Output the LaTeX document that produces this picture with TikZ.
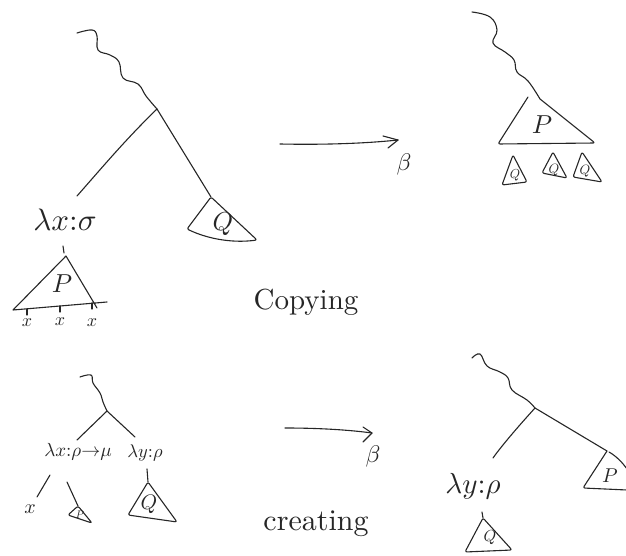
\documentclass[tikz,border=0pt]{standalone}
\usepackage{graphicx}
\usepackage{amsmath}
\newcommand{\sz}[2]{\scalebox{#1}{\fontsize{10}{12}\selectfont #2}}
\begin{document}
\begin{tikzpicture}[x=1pt,y=-1pt,
  pen/.style={line width=1.1pt,line cap=round,line join=round,draw=black!85},
  tri/.style={pen,rounded corners=2pt},
  lbl/.style={inner sep=0pt,text=black!85},
  hd/.style={pen}]
\useasboundingbox (0,0) rectangle (626,556);

% ---------------- top left ----------------
\coordinate (jA) at (157,109);
\draw[pen] plot[smooth,tension=0.7] coordinates {(77,33) (92,30) (97,36) (98,50) (110,55) (119,62) (123,78) (138,84) (146,96) (157,109)};
\coordinate (lA) at (77,196);
\draw[pen] (jA) .. controls (125,140) and (100,170) .. (lA);
\coordinate (qA) at (211,197);
\draw[pen] (jA) -- (qA);
\draw[tri] (qA) -- (187,229) .. controls (210,240) and (235,243) .. (257,240) -- cycle;
\node[lbl] (QA) at (223,224) {\sz{2.6}{$Q$}};

\node[lbl] (lamA) at (65,220) {\sz{3.1}{$\lambda x{:}\sigma$}};
\coordinate (tA1) at (63,246);
\coordinate (tA2) at (64,253);
\draw[pen] (tA1) -- (tA2);
\coordinate (pA) at (66,256);
\draw[pen] (107,302) -- (13,310) -- (pA) -- (97,308);
\node[lbl] (PA) at (62,284) {\sz{2.6}{$P$}};
\foreach \xx/\yy in {27/309,60/306,92/303}{
  \draw[pen] (\xx,\yy) -- (\xx,\yy+6);
}
\node[lbl] (xA1) at (27,323) {\sz{1.8}{$x$}};
\node[lbl] (xA2) at (60,322) {\sz{1.8}{$x$}};
\node[lbl] (xA3) at (92,323) {\sz{1.8}{$x$}};

% arrow 1
\coordinate (a1s) at (280,144);
\coordinate (a1e) at (398,140);
\draw[pen] (a1s) .. controls (330,145) and (370,143) .. (a1e);
\draw[hd] (383,136) -- (a1e) -- (388,148);
\node[lbl] (b1) at (404,165) {\sz{2.4}{$\beta$}};

\node[lbl] (copy) at (306,302) {\sz{2.9}{Copying}};

% ---------------- top right ----------------
\coordinate (jR) at (540,99);
\draw[pen] plot[smooth,tension=0.7] coordinates {(472,12) (490,17) (497,30) (493,43) (505,52) (514,60) (517,72) (528,81) (540,99)};
\draw[tri] (528,97) -- (498,144) -- (595,143) -- (jR);
\node[lbl] (PR) at (542,125) {\sz{2.6}{$P$}};
\draw[tri] (513,155) -- (502,185) -- (527,182) -- cycle;
\node[lbl] (QR1) at (515,175) {\sz{1.3}{$Q$}};
\draw[tri] (553,152) -- (542,173) -- (567,178) -- cycle;
\node[lbl] (QR2) at (554,170) {\sz{1.35}{$Q$}};
\draw[tri] (582,152) -- (573,177) -- (602,182) -- cycle;
\node[lbl] (QR3) at (585,171) {\sz{1.35}{$Q$}};

% ---------------- bottom left ----------------
\coordinate (jB) at (107,411);
\draw[pen] plot[smooth,tension=0.7] coordinates {(80,377) (91,375) (93,383) (100,393) (103,402) (107,411)};
\coordinate (lB) at (77,440);
\coordinate (rB) at (135,437);
\draw[pen] (jB) -- (lB);
\draw[pen] (jB) -- (rB);
\node[lbl] (lamB) at (78,452) {\sz{1.9}{$\lambda x{:}\rho{\to}\mu$}};
\node[lbl] (lamC) at (145,453) {\sz{1.85}{$\lambda y{:}\rho$}};
\coordinate (xs) at (50,475);
\coordinate (xe) at (37,497);
\draw[pen] (xs) -- (xe);
\node[lbl] (xB) at (30,509) {\sz{2.0}{$x$}};
\coordinate (ps) at (67,482);
\coordinate (pB) at (78,506);
\draw[pen] (ps) -- (pB);
\draw[tri] (pB) -- (68,515) -- (92,523) -- cycle;
\node[lbl] (PB) at (80,515) {\sz{1.1}{$P$}};
\coordinate (qs) at (147,469);
\coordinate (qB) at (148,482);
\draw[pen] (qs) -- (qB);
\draw[tri] (qB) -- (128,515) -- (177,522) -- cycle;
\node[lbl] (QB) at (149,504) {\sz{2.1}{$Q$}};

% arrow 2
\coordinate (a2s) at (285,428);
\coordinate (a2e) at (372,433);
\draw[pen] (a2s) .. controls (320,428) and (350,430) .. (a2e);
\draw[hd] (363,427) -- (a2e) -- (363,442);
\node[lbl] (b2) at (373,456) {\sz{2.4}{$\beta$}};

\node[lbl] (creat) at (316,524) {\sz{3.0}{creating}};

% ---------------- bottom right ----------------
\coordinate (jC) at (535,408);
\draw[pen] plot[smooth,tension=0.7] coordinates {(472,358) (480,354) (487,366) (500,372) (508,378) (512,390) (527,400) (535,408)};
\coordinate (lC) at (493,458);
\coordinate (pC) at (607,451);
\draw[pen] (jC) .. controls (515,430) and (500,448) .. (lC);
\draw[pen] (jC) -- (pC);
\draw[tri] (pC) -- (583,488) -- (627,490);
\draw[pen] (609,452) .. controls (616,456) and (622,462) .. (627,469);
\node[lbl] (PC) at (610,476) {\sz{2.0}{$P$}};
\node[lbl] (lamD) at (473,486) {\sz{2.9}{$\lambda y{:}\rho$}};
\coordinate (tC1) at (482,512);
\coordinate (qC) at (483,518);
\draw[pen] (tC1) -- (qC);
\draw[tri] (qC) -- (465,552) -- (512,550) -- cycle;
\node[lbl] (QC) at (490,538) {\sz{1.6}{$Q$}};
\end{tikzpicture}
\end{document}
